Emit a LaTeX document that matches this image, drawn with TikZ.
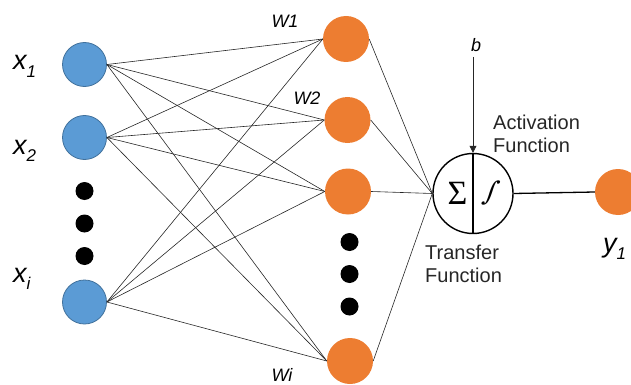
\documentclass[tikz,border=0pt]{standalone}
\usepackage{graphicx}
\usepackage{fontspec}
\setmainfont{Liberation Sans}
\newfontfamily\sigmafont{Liberation Serif}
\newfontfamily\intfont{DejaVu Serif}
\usetikzlibrary{arrows.meta}

\definecolor{inblue}{HTML}{5B9BD5}
\definecolor{inblueedge}{HTML}{41719C}
\definecolor{hidorange}{HTML}{ED7D31}

\tikzset{
  inputnode/.style={circle, fill=inblue, draw=inblueedge, line width=0.8pt,
                    minimum size=44pt, inner sep=0pt},
  hiddennode/.style={circle, fill=hidorange, minimum size=46pt, inner sep=0pt},
  ellipsisdot/.style={circle, fill=black, minimum size=18pt, inner sep=0pt},
  synapse/.style={draw=black!85, line width=0.6pt},
  varlabel/.style={font=\fontsize{27}{30}\selectfont\itshape, inner sep=0pt, anchor=base west},
  weightlabel/.style={font=\fontsize{18}{20}\selectfont\itshape, inner sep=0pt},
  caption/.style={font=\fontsize{20}{23}\selectfont, align=left, text=black!85,
                  inner sep=0pt, anchor=north west},
  neuron/.style={circle, draw=black, line width=1.4pt, minimum size=80pt, inner sep=0pt},
}
\newcommand{\subidx}[1]{\raisebox{-7.5pt}{\fontsize{17}{18}\selectfont #1}}

\begin{document}
\begin{tikzpicture}[x=1pt,y=-1pt]
  \useasboundingbox (0,0) rectangle (631,385);

  % input layer
  \node[inputnode] (x1) at (84.5,64.5) {};
  \node[inputnode] (x2) at (84.5,137.5) {};
  \node[inputnode] (xi) at (84.5,302) {};
  \node[ellipsisdot] (xd1) at (84.5,191) {};
  \node[ellipsisdot] (xd2) at (84.5,223.5) {};
  \node[ellipsisdot] (xd3) at (84.5,256) {};

  \node[varlabel] (lx1) at (13,70) {x\subidx{1}};
  \node[varlabel] (lx2) at (13,154) {x\subidx{2}};
  \node[varlabel] (lxi) at (13,282) {x\subidx{i}};

  % weighted layer
  \node[hiddennode] (h1) at (346,39) {};
  \node[hiddennode] (h2) at (347.5,120) {};
  \node[hiddennode] (h3) at (348,191.5) {};
  \node[hiddennode] (h4) at (350,361) {};
  \node[ellipsisdot] (hd1) at (349.5,242) {};
  \node[ellipsisdot] (hd2) at (349.5,274) {};
  \node[ellipsisdot] (hd3) at (349.5,306.5) {};

  \node[weightlabel] (w1) at (285,21) {W1};
  \node[weightlabel] (w2) at (307,98.5) {W2};
  \node[weightlabel] (wi) at (282,375) {Wi};

  % full connections between the two layers
  \foreach \a in {x1,x2,xi}
    \foreach \b in {h1,h2,h3,h4}
      \draw[synapse] (\a.east) -- (\b.west);

  % summing / activation unit
  \node[neuron] (sum) at (473,193.5) {};
  \draw[line width=1.8pt] (sum.north) -- (sum.south);
  \node[inner sep=0pt, font=\sigmafont\fontsize{34}{36}\selectfont] (sig) at (457.5,193) {Σ};
  \node[inner sep=0pt, xslant=0.3, transform shape,
        font=\intfont\fontsize{26}{28}\selectfont] (intg) at (491,193.5) {∫};

  \foreach \b in {h1,h2,h3,h4}
    \draw[synapse] (\b.east) -- (sum.west);

  % bias input
  \coordinate (bsrc) at (473,57);
  \node[inner sep=0pt, font=\fontsize{18}{20}\selectfont\itshape] (blab) at (476,45.5) {b};
  \draw[black!85, line width=0.7pt, -{Triangle[length=7pt,width=7pt]}] (bsrc) -- (sum.north);

  % output
  \node[hiddennode] (y1) at (618,192) {};
  \draw[black, line width=1.3pt] (sum.east) -- (y1.west);
  \node[varlabel] (ly1) at (603,252) {y\subidx{1}};

  % captions
  \node[caption] (act) at (493,114.5) {Activation\\Function};
  \node[caption] (trf) at (425,244.5) {Transfer\\Function};
\end{tikzpicture}
\end{document}
